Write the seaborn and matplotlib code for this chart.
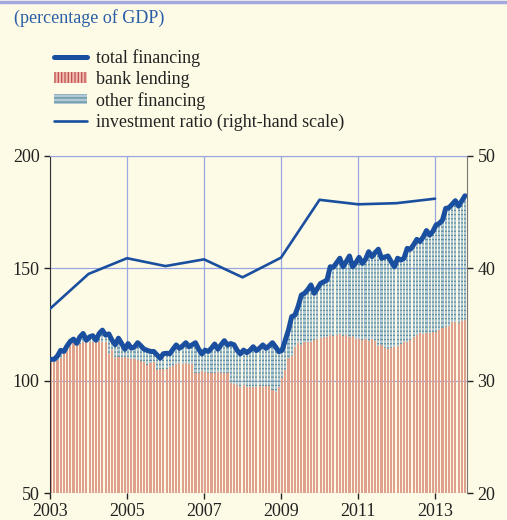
import numpy as np
import pandas as pd
import matplotlib
matplotlib.use("Agg")
import matplotlib.pyplot as plt
from matplotlib.lines import Line2D
from matplotlib.patches import Patch
import seaborn as sns

# monthly data, Jan 2003 -> Oct 2013 (percentage of GDP)
months = pd.period_range("2003-01", "2013-10", freq="M")

total_financing = [
    109.5, 109.5, 111.0, 113.5, 113.0, 115.5, 117.5, 118.5, 116.6, 119.5, 121.0, 118.0,
    119.5, 120.0, 118.0, 121.0, 122.5, 120.3, 120.8, 118.0, 116.0, 118.9, 116.5, 114.0,
    116.5, 114.5, 115.0, 116.9, 115.5, 114.0, 113.5, 113.0, 113.0, 111.5, 110.0, 112.0,
    112.2, 112.0, 114.0, 115.9, 114.4, 115.5, 116.9, 115.1, 116.0, 116.9, 114.0, 111.9,
    113.6, 113.0, 114.5, 116.3, 114.0, 116.0, 117.8, 115.9, 116.5, 116.0, 113.5, 111.9,
    113.6, 112.5, 113.5, 115.1, 113.4, 114.5, 115.9, 114.4, 115.5, 116.9, 115.0, 112.9,
    113.5, 118.0, 122.6, 128.5, 129.2, 133.0, 138.1, 138.9, 140.5, 142.6, 138.9, 141.0,
    143.3, 144.0, 144.8, 150.7, 150.5, 152.5, 154.5, 150.7, 153.0, 155.5, 150.7, 152.5,
    154.9, 152.2, 154.0, 157.4, 155.2, 157.0, 158.5, 154.5, 155.0, 155.5, 153.0, 150.7,
    154.5, 153.7, 154.5, 158.9, 158.5, 160.5, 162.9, 161.9, 164.0, 166.8, 164.8, 166.5,
    169.3, 170.0, 171.5, 176.7, 177.0, 178.5, 180.1, 177.7, 180.0, 182.3,
]

bank_lending = [
    109.0, 108.5, 109.0, 110.0, 111.9, 113.6, 115.5, 116.6, 117.0, 116.5, 117.0, 117.5,
    117.0, 117.4, 117.8, 117.5, 117.0, 117.0, 111.9, 113.6, 110.0, 110.7, 110.0, 110.5,
    110.0, 109.5, 109.5, 109.2, 108.8, 108.4, 107.0, 108.0, 108.5, 104.7, 105.0, 105.0,
    105.0, 106.0, 106.5, 107.5, 108.0, 107.5, 108.0, 107.5, 107.5, 103.3, 103.5, 104.4,
    104.0, 103.5, 103.3, 103.3, 104.0, 103.5, 103.3, 103.3, 98.8, 98.5, 98.0, 97.3,
    98.0, 97.0, 97.0, 97.0, 97.0, 97.5, 97.0, 97.5, 97.5, 95.8, 95.1, 97.0,
    101.0, 104.7, 110.0, 111.0, 115.0, 116.6, 116.0, 117.0, 117.4, 117.0, 118.0, 118.5,
    119.0, 119.6, 119.5, 120.3, 119.8, 120.5, 120.8, 120.0, 120.5, 119.5, 119.8, 118.5,
    118.4, 118.0, 118.5, 117.8, 118.5, 117.5, 115.5, 116.0, 114.5, 114.0, 114.4, 115.0,
    115.5, 116.5, 117.0, 117.4, 118.0, 119.6, 120.5, 121.1, 120.8, 121.0, 121.1, 121.5,
    121.8, 122.5, 123.3, 124.0, 124.5, 126.0, 126.2, 125.8, 126.5, 127.0,
]

# annual investment ratio (right-hand scale)
inv_years = [2003, 2004, 2005, 2006, 2007, 2008, 2009, 2010, 2011, 2012, 2013]
inv_ratio = [36.4, 39.5, 40.9, 40.2, 40.8, 39.2, 40.95, 46.1, 45.7, 45.8, 46.2]

bg = "#fdfbe5"
grid_c = "#9aa6e2"
blue = "#1a4f9f"
salmon = "#e0a08e"
red_dark = "#c0504d"
lightblue = "#b2c9d6"
hatch_c = "#5f8fa0"

sns.set_style("white")
plt.rcParams["font.family"] = ["Liberation Serif", "DejaVu Serif"]
plt.rcParams["hatch.linewidth"] = 0.9

df = pd.DataFrame({
    "x": months.year + (months.month - 1) / 12.0,
    "total": total_financing,
    "bank": bank_lending,
})
df["other"] = df["total"] - df["bank"]
w = 0.66 / 12
df["xc"] = df["x"] + w / 2

inv = pd.DataFrame({"year": inv_years, "ratio": inv_ratio})

fig = plt.figure(figsize=(5.07, 5.20), dpi=100, facecolor=bg)
ax = fig.add_axes([50 / 507, 1 - 493 / 520, 417 / 507, 337 / 520])
ax.set_facecolor(bg)

ax.bar(df["x"], df["bank"], width=w, align="edge", color=salmon, linewidth=0, zorder=2)
ax.bar(df["x"], df["other"], bottom=df["bank"], width=w, align="edge",
       facecolor=lightblue, edgecolor=hatch_c, hatch="----", linewidth=0, zorder=2)
sns.lineplot(data=df, x="xc", y="total", ax=ax, color=blue, linewidth=3.6,
             zorder=4, legend=False)

ax.set_xlim(2003, 2013.83)
ax.set_ylim(50, 200)
ax.set_xticks([2003, 2005, 2007, 2009, 2011, 2013])
ax.set_yticks([50, 100, 150, 200])
ax.set_xlabel("")
ax.set_ylabel("")
ax.grid(True, color=grid_c, linewidth=0.9)
ax.set_axisbelow(True)
ax.tick_params(axis="both", labelsize=13, colors="#222222", length=4, width=1,
               direction="out", bottom=True, left=True)
ax.spines["bottom"].set_visible(False)
ax.spines["top"].set_color(grid_c)
ax.spines["left"].set_color("#333333")
ax.spines["right"].set_visible(False)

ax2 = ax.twinx()
sns.lineplot(data=inv, x="year", y="ratio", ax=ax2, color=blue, linewidth=1.9,
             legend=False)
ax2.set_ylim(20, 50)
ax2.set_yticks([20, 30, 40, 50])
ax2.set_ylabel("")
ax2.tick_params(axis="y", labelsize=13, colors="#222222", length=4, width=1,
                direction="out", right=True)
ax2.spines["right"].set_color("#777777")
for s in ["top", "left", "bottom"]:
    ax2.spines[s].set_visible(False)

fig.text(14 / 507, 1 - 18 / 520, "(percentage of GDP)", color="#2b5ea8",
         fontsize=13, va="center", ha="left")

handles = [
    Line2D([], [], color=blue, linewidth=3.6),
    Patch(facecolor="#eebcb0", edgecolor=red_dark, hatch="|||||", linewidth=0),
    Patch(facecolor=lightblue, edgecolor=hatch_c, hatch="----", linewidth=0),
    Line2D([], [], color=blue, linewidth=1.9),
]
labels = ["total financing", "bank lending", "other financing",
          "investment ratio (right-hand scale)"]
fig.legend(handles, labels, loc="upper left", bbox_to_anchor=(45 / 507, 1 - 40 / 520),
           frameon=False, fontsize=13, handlelength=1.8, handleheight=0.5,
           handletextpad=0.55, labelspacing=0.22, borderpad=0, labelcolor="#222222")

fig.add_artist(Line2D([0, 1], [1 - 1.5 / 520, 1 - 1.5 / 520], color="#a3a9e0",
                      linewidth=2.5, transform=fig.transFigure))

fig.savefig("out.png", dpi=100, facecolor=bg)
